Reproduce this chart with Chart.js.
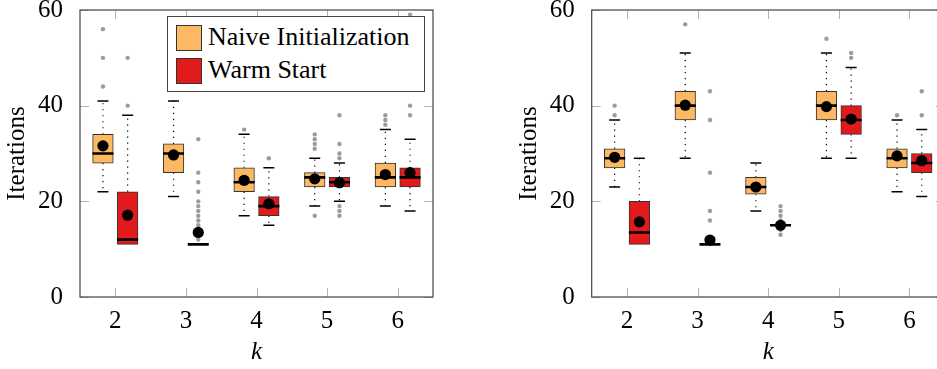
<!DOCTYPE html>
<html>
<head>
<meta charset="utf-8">
<script src="https://cdn.jsdelivr.net/npm/chart.js@4.4.1/dist/chart.umd.min.js"></script>
<style>
  html, body { margin: 0; padding: 0; background: #fff; overflow: hidden; width: 937px; height: 369px; }
  #wrap { position: relative; width: 937px; height: 369px; overflow: hidden; }
  .panel { position: absolute; top: 0; height: 369px; }
  #pl { left: 0; width: 470px; }
  #pr { left: 470px; width: 480px; }
  .legend { position: absolute; left: 167px; top: 16px; width: 256px; height: 74px; border: 1px solid #444; background: #fff;
            font-family: 'Liberation Serif', 'Times New Roman', Times, 'DejaVu Serif', serif; font-size: 26px; color: #000; }
  .sw { position: absolute; left: 8px; width: 24px; height: 24px; border: 1px solid #333; }
  .lt { position: absolute; left: 40px; line-height: 26px; white-space: nowrap; }
</style>
</head>
<body>
<div id="wrap">
  <div class="panel" id="pl"><canvas id="chartL"></canvas></div>
  <div class="panel" id="pr"><canvas id="chartR"></canvas></div>
  <div class="legend">
    <div class="sw" style="top:8px;background:#FDB863"></div><span class="lt" style="top:7px">Naive Initialization</span>
    <div class="sw" style="top:41px;background:#E31A1C"></div><span class="lt" style="top:40px">Warm Start</span>
  </div>
</div>
<script>
// categories and ticks
const ks = [2, 3, 4, 5, 6];
const yTicks = [0, 20, 40, 60];
const seriesColors = ['#FDB863', '#E31A1C'];

// left panel, naive initialization
const naiveQ1L = [28, 26, 22, 23, 23];
const naiveMedL = [30, 30, 24, 25, 25];
const naiveQ3L = [34, 32, 27, 26, 28];
const naiveLoL = [22, 21, 17, 19, 19];
const naiveHiL = [41, 41, 34, 29, 35];
const naiveMeanL = [31.6, 29.7, 24.4, 24.7, 25.6];
const naiveOutL = [[44, 50, 56], [], [35], [17, 31, 32, 33, 34], [36, 37, 38]];

// left panel, warm start
const warmQ1L = [11, 11, 17, 23, 23];
const warmMedL = [12, 11, 19, 24, 25];
const warmQ3L = [22, 11, 21, 25, 27];
const warmLoL = [11, 11, 15, 20, 18];
const warmHiL = [38, 11, 27, 28, 33];
const warmMeanL = [17.1, 13.5, 19.5, 23.9, 26.0];
const warmOutL = [[40, 50], [12, 13, 14, 15, 16, 17, 18, 19, 20, 22, 24, 26, 33], [29], [17, 18, 19, 29, 30, 32, 38], [38, 40, 59]];

// right panel, naive initialization
const naiveQ1R = [27, 37, 21.5, 37, 27];
const naiveMedR = [29, 40, 23, 40, 29];
const naiveQ3R = [31, 43, 25, 43, 31];
const naiveLoR = [23, 29, 18, 29, 22];
const naiveHiR = [37, 51, 28, 51, 37];
const naiveMeanR = [29.2, 40.1, 23.0, 39.8, 29.5];
const naiveOutR = [[38, 40], [57], [], [54], [38]];

// right panel, warm start
const warmQ1R = [11, 11, 15, 34, 26];
const warmMedR = [13.5, 11, 15, 37, 28];
const warmQ3R = [20, 11, 15, 40, 30];
const warmLoR = [11, 11, 15, 29, 21];
const warmHiR = [29, 11, 15, 48, 35];
const warmMeanR = [15.7, 11.9, 15.0, 37.2, 28.5];
const warmOutR = [[], [16, 18, 26, 37, 43], [13, 14, 16, 17, 18, 19], [50, 51], [38, 43]];

const FONT = "'Liberation Serif', 'Times New Roman', Times, 'DejaVu Serif', serif";

function boxParts(series) {
  return {
    id: 'boxParts',
    beforeDatasetsDraw(chart) {
      const { ctx, chartArea: a, scales: { x, y } } = chart;
      ctx.save();
      // short grey ticks pointing inward
      ctx.strokeStyle = '#b4b4b4';
      ctx.lineWidth = 1;
      ctx.beginPath();
      ks.forEach(k => {
        const px = Math.round(x.getPixelForValue(k)) + 0.5;
        ctx.moveTo(px, a.bottom); ctx.lineTo(px, a.bottom - 9);
        ctx.moveTo(px, a.top); ctx.lineTo(px, a.top + 9);
      });
      yTicks.forEach(v => {
        const py = Math.round(y.getPixelForValue(v)) + 0.5;
        ctx.moveTo(a.left, py); ctx.lineTo(a.left + 9, py);
        ctx.moveTo(a.right, py); ctx.lineTo(a.right - 9, py);
      });
      ctx.stroke();

      // whiskers and caps
      ctx.strokeStyle = '#000';
      series.forEach(s => ks.forEach((k, i) => {
        const px = x.getPixelForValue(k + s.off);
        ctx.setLineDash([1.2, 4.8]);
        ctx.lineWidth = 1.2;
        ctx.beginPath();
        ctx.moveTo(px, y.getPixelForValue(s.q3[i])); ctx.lineTo(px, y.getPixelForValue(s.hi[i]));
        ctx.moveTo(px, y.getPixelForValue(s.q1[i])); ctx.lineTo(px, y.getPixelForValue(s.lo[i]));
        ctx.stroke();
        ctx.setLineDash([]);
        ctx.lineWidth = 1.5;
        ctx.beginPath();
        if (s.hi[i] > s.q3[i]) {
          const py = y.getPixelForValue(s.hi[i]);
          ctx.moveTo(px - 5.5, py); ctx.lineTo(px + 5.5, py);
        }
        if (s.lo[i] < s.q1[i]) {
          const py = y.getPixelForValue(s.lo[i]);
          ctx.moveTo(px - 5.5, py); ctx.lineTo(px + 5.5, py);
        }
        ctx.stroke();
      }));
      ctx.restore();
    },
    afterDatasetDraw(chart, args) {
      const ds = chart.data.datasets[args.index];
      if (ds.type !== 'bar') return;
      const s = series[ds.seriesIndex];
      const { ctx, scales: { x, y } } = chart;
      ctx.save();
      ctx.strokeStyle = '#000';
      ctx.lineWidth = 2.6;
      ctx.beginPath();
      ks.forEach((k, i) => {
        const px = x.getPixelForValue(k + s.off);
        const py = y.getPixelForValue(s.med[i]);
        ctx.moveTo(px - 10.5, py); ctx.lineTo(px + 10.5, py);
      });
      ctx.stroke();
      ctx.restore();
    },
    afterDraw(chart) {
      const { ctx, chartArea: a } = chart;
      ctx.save();
      ctx.strokeStyle = '#444';
      ctx.lineWidth = 1.2;
      ctx.strokeRect(a.left, a.top, a.right - a.left, a.bottom - a.top);
      ctx.restore();
    }
  };
}

function makeChart(id, series, axisWidth, titlePad, padRight) {
  const datasets = [];
  series.forEach((s, si) => {
    datasets.push({
      type: 'bar',
      seriesIndex: si,
      data: ks.map((k, i) => ({ x: k + s.off, y: [s.q1[i], s.q3[i]] })),
      backgroundColor: s.color,
      borderColor: '#333',
      borderWidth: 1,
      borderSkipped: false,
      barThickness: 20.6,
      grouped: false,
      order: 2
    });
    datasets.push({
      type: 'scatter',
      data: ks.flatMap((k, i) => s.out[i].map(v => ({ x: k + s.off, y: v }))),
      pointRadius: 2.2,
      backgroundColor: '#9c9c9c',
      borderWidth: 0,
      order: 3
    });
    datasets.push({
      type: 'scatter',
      data: ks.map((k, i) => ({ x: k + s.off, y: s.mean[i] })),
      pointRadius: 5.6,
      backgroundColor: '#000',
      borderWidth: 0,
      order: 0
    });
  });

  return new Chart(document.getElementById(id), {
    type: 'bar',
    data: { datasets },
    options: {
      responsive: true,
      maintainAspectRatio: false,
      animation: false,
      layout: { autoPadding: false, padding: { top: 10, right: padRight, left: 0, bottom: 0 } },
      plugins: { legend: { display: false }, tooltip: { enabled: false } },
      scales: {
        x: {
          type: 'linear',
          min: 1.5,
          max: 6.5,
          offset: false,
          grid: { display: false },
          border: { display: false },
          afterBuildTicks: sc => { sc.ticks = ks.map(v => ({ value: v })); },
          afterFit: sc => { sc.height = 72; sc.paddingLeft = 0; sc.paddingRight = 0; },
          ticks: { color: '#000', padding: 1, font: { family: FONT, size: 25 } },
          title: { display: true, text: 'k', color: '#000', padding: { top: 0, bottom: 2 },
                   font: { family: FONT, size: 25, style: 'italic' } }
        },
        y: {
          type: 'linear',
          min: 0,
          max: 60,
          grid: { display: false },
          border: { display: false },
          afterBuildTicks: sc => { sc.ticks = yTicks.map(v => ({ value: v })); },
          afterFit: sc => { sc.width = axisWidth; sc.paddingTop = 0; sc.paddingBottom = 0; },
          ticks: { color: '#000', padding: 9, font: { family: FONT, size: 25 } },
          title: { display: true, text: 'Iterations', color: '#000', padding: { top: titlePad, bottom: 0 },
                   font: { family: FONT, size: 25 } }
        }
      }
    },
    plugins: [boxParts(series)]
  });
}

const seriesL = [
  { q1: naiveQ1L, med: naiveMedL, q3: naiveQ3L, lo: naiveLoL, hi: naiveHiL, mean: naiveMeanL, out: naiveOutL, off: -0.175, color: seriesColors[0] },
  { q1: warmQ1L, med: warmMedL, q3: warmQ3L, lo: warmLoL, hi: warmHiL, mean: warmMeanL, out: warmOutL, off: 0.175, color: seriesColors[1] }
];
const seriesR = [
  { q1: naiveQ1R, med: naiveMedR, q3: naiveQ3R, lo: naiveLoR, hi: naiveHiR, mean: naiveMeanR, out: naiveOutR, off: -0.175, color: seriesColors[0] },
  { q1: warmQ1R, med: warmMedR, q3: warmQ3R, lo: warmLoR, hi: warmHiR, mean: warmMeanR, out: warmOutR, off: 0.175, color: seriesColors[1] }
];

makeChart('chartL', seriesL, 80, 2.5, 37);
makeChart('chartR', seriesR, 121.7, 44, 5.3);
</script>
</body>
</html>
